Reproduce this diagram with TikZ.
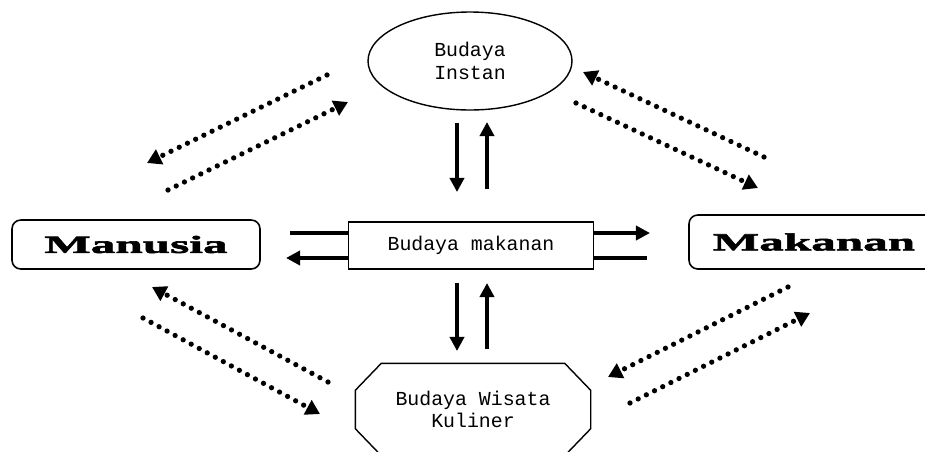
\documentclass[tikz,border=0pt]{standalone}
\usepackage{fontspec}
\newfontfamily\monofont{Liberation Mono}
\newfontfamily\widefont{Liberation Serif}[FakeStretch=2.0, FakeBold=2.5]
\usetikzlibrary{arrows.meta, positioning, shapes.geometric, calc}
\tikzset{
  textbox/.style={draw, line width=0.8pt, font=\monofont\fontsize{11.3}{12.8}\selectfont,
                  align=center, inner sep=0pt},
  namebox/.style={draw, line width=0.9pt, rounded corners=5pt, inner sep=0pt,
                  font=\widefont\bfseries\fontsize{14}{16}\selectfont},
  solidarr/.style={-{Triangle[length=8pt,width=8pt]}, line width=2pt},
  plainline/.style={line width=2pt},
  dotarr/.style={-{Triangle[length=8pt,width=9pt]}, line width=3pt,
                 line cap=round, dash pattern=on 0pt off 5.2pt},
}
\begin{document}
\begin{tikzpicture}
  \useasboundingbox (0,0) rectangle (18.5,9.02);

  % nodes
  \node[textbox, ellipse, minimum width=4.08cm, minimum height=1.96cm]
    (inst) at (9.40,7.80) {Budaya\\Instan};
  \node[textbox, rectangle, minimum width=4.9cm, minimum height=0.94cm]
    (bm) at (9.42,4.11) {Budaya makanan};
  \node[textbox, draw=none, minimum width=4.68cm, minimum height=1.82cm]
    (kul) at (9.46,0.83) {Budaya Wisata\\Kuliner};
  \draw[line width=0.8pt]
    ([xshift=0.52cm]kul.north west) -- ([xshift=-0.52cm]kul.north east)
    -- ([yshift=-0.54cm]kul.north east) -- ([yshift=0.54cm]kul.south east)
    -- ([xshift=-0.52cm]kul.south east) -- ([xshift=0.52cm]kul.south west)
    -- ([yshift=0.54cm]kul.south west) -- ([yshift=-0.54cm]kul.north west) -- cycle;
  \node[namebox, minimum width=4.96cm, minimum height=0.98cm]
    (man) at (2.72,4.13) {Manusia};
  \node[namebox, minimum width=5.0cm, minimum height=1.08cm]
    (mak) at (16.28,4.18) {Makanan};

  % horizontal arrows through Budaya makanan
  \coordinate (hl1) at (5.80,4.36);
  \coordinate (hl2) at (5.72,3.86);
  \coordinate (hr1) at (13.00,4.36);
  \coordinate (hr2) at (12.94,3.86);
  \draw[plainline] (hl1) -- (hl1 -| bm.west);
  \draw[solidarr] (hl2 -| bm.west) -- (hl2);
  \draw[solidarr] (hr1 -| bm.east) -- (hr1);
  \draw[plainline] (hr2 -| bm.east) -- (hr2);

  % vertical arrows
  \coordinate (v1a) at (9.14,6.56);
  \coordinate (v1b) at (9.14,5.18);
  \coordinate (v2a) at (9.74,5.24);
  \coordinate (v2b) at (9.74,6.58);
  \coordinate (v3a) at (9.14,3.36);
  \coordinate (v3b) at (9.14,2.00);
  \coordinate (v4a) at (9.74,2.04);
  \coordinate (v4b) at (9.74,3.36);
  \draw[solidarr] (v1a) -- (v1b);
  \draw[solidarr] (v2a) -- (v2b);
  \draw[solidarr] (v3a) -- (v3b);
  \draw[solidarr] (v4a) -- (v4b);

  % dotted arrows
  \coordinate (d1a) at (6.54,7.52);  \coordinate (d1b) at (2.94,5.76);
  \coordinate (d2a) at (3.36,5.22);  \coordinate (d2b) at (6.96,6.98);
  \coordinate (d3a) at (15.28,5.88); \coordinate (d3b) at (11.66,7.58);
  \coordinate (d4a) at (11.52,6.96); \coordinate (d4b) at (15.16,5.26);
  \coordinate (d5a) at (6.56,1.38);  \coordinate (d5b) at (3.04,3.28);
  \coordinate (d6a) at (2.86,2.66);  \coordinate (d6b) at (6.40,0.74);
  \coordinate (d7a) at (15.76,3.28); \coordinate (d7b) at (12.16,1.48);
  \coordinate (d8a) at (12.60,0.96); \coordinate (d8b) at (16.20,2.76);
  \foreach \i in {1,...,8}
    \draw[dotarr] (d\i a) -- (d\i b);
\end{tikzpicture}
\end{document}
